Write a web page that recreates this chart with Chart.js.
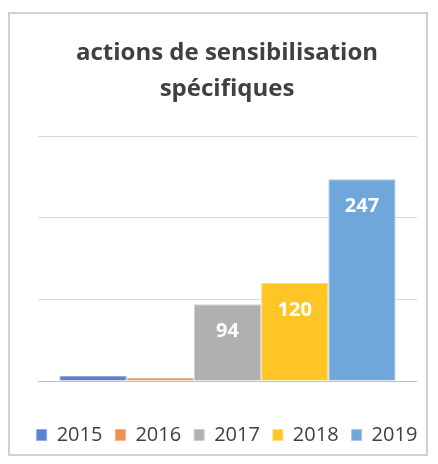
<!DOCTYPE html>
<html>
<head>
<meta charset="utf-8">
<script src="https://cdn.jsdelivr.net/npm/chart.js@4.4.0/dist/chart.umd.min.js"></script>
<style>
  html, body { margin: 0; padding: 0; background: #ffffff; }
  #wrap { position: relative; width: 438px; height: 464px; }
</style>
</head>
<body>
<div id="wrap"><canvas id="actionsChart" width="438" height="464"></canvas></div>
<script>
const years = ['2015', '2016', '2017', '2018', '2019'];
const actionCounts = [6, 4, 94, 120, 247];
const yTicks = [0, 100, 200, 300];
const barColors = ['#5a82cd', '#ef9050', '#b0b0b0', '#ffc526', '#6fa7db'];
const barBorders = ['#8eaae0', '#f5b58a', '#cfcfcf', '#ffdc7a', '#a5c8ea'];

// frame around the chart, like the office export
const framePlugin = {
    id: 'frame',
    beforeDraw(chart) {
        const ctx = chart.ctx;
        ctx.save();
        ctx.strokeStyle = '#d0d0d0';
        ctx.lineWidth = 2;
        ctx.strokeRect(9, 13, 418, 442);
        ctx.restore();
    }
};

// value written inside the top of each tall bar
const valueLabels = {
    id: 'valueLabels',
    afterDatasetsDraw(chart) {
        const ctx = chart.ctx;
        ctx.save();
        ctx.font = 'bold 20px "Open Sans"';
        ctx.fillStyle = '#ffffff';
        ctx.textAlign = 'center';
        ctx.textBaseline = 'middle';
        chart.data.datasets.forEach(function (ds, i) {
            const bar = chart.getDatasetMeta(i).data[0];
            const v = ds.data[0];
            if (v < 30) return;
            ctx.fillText(String(v), bar.x, bar.y + 27);
        });
        ctx.restore();
    }
};

const ctx = document.getElementById('actionsChart').getContext('2d');
const actionsChart = new Chart(ctx, {
    type: 'bar',
    data: {
        labels: [''],
        datasets: years.map(function (y, i) {
            return {
                label: y,
                data: [actionCounts[i]],
                backgroundColor: barColors[i],
                borderColor: barBorders[i],
                borderWidth: 1,
                categoryPercentage: 0.887,
                barPercentage: 1.0
            };
        })
    },
    options: {
        responsive: false,
        animation: false,
        layout: {
            padding: { left: 16, right: 0, top: 0, bottom: 9 }
        },
        scales: {
            x: {
                grid: { display: false },
                border: { display: false },
                ticks: { display: false },
                afterFit: function (scale) { scale.height = 31; }
            },
            y: {
                min: 0,
                max: 300,
                afterBuildTicks: function (scale) {
                    scale.ticks = yTicks.map(function (v) { return { value: v }; });
                },
                afterFit: function (scale) { scale.width = 22; },
                ticks: { display: false },
                border: { display: false },
                grid: {
                    color: function (c) { return c.tick && c.tick.value === 0 ? '#bfbfbf' : '#d9d9d9'; },
                    lineWidth: 1,
                    drawTicks: false
                }
            },
            yRight: {
                position: 'right',
                min: 0,
                max: 300,
                afterFit: function (scale) { scale.width = 21; },
                ticks: { display: false },
                border: { display: false },
                grid: { display: false }
            }
        },
        plugins: {
            title: {
                display: true,
                text: ['actions de sensibilisation', 'spécifiques'],
                color: '#404040',
                font: { family: '"Open Sans"', size: 24, weight: 'bold', lineHeight: 1.5 },
                padding: { top: 35, bottom: 29 }
            },
            legend: {
                position: 'bottom',
                labels: {
                    color: '#404040',
                    font: { family: '"Open Sans"', size: 20 },
                    boxWidth: 10,
                    boxHeight: 11,
                    padding: 13
                }
            },
            tooltip: { enabled: false }
        }
    },
    plugins: [framePlugin, valueLabels]
});
</script>
</body>
</html>
